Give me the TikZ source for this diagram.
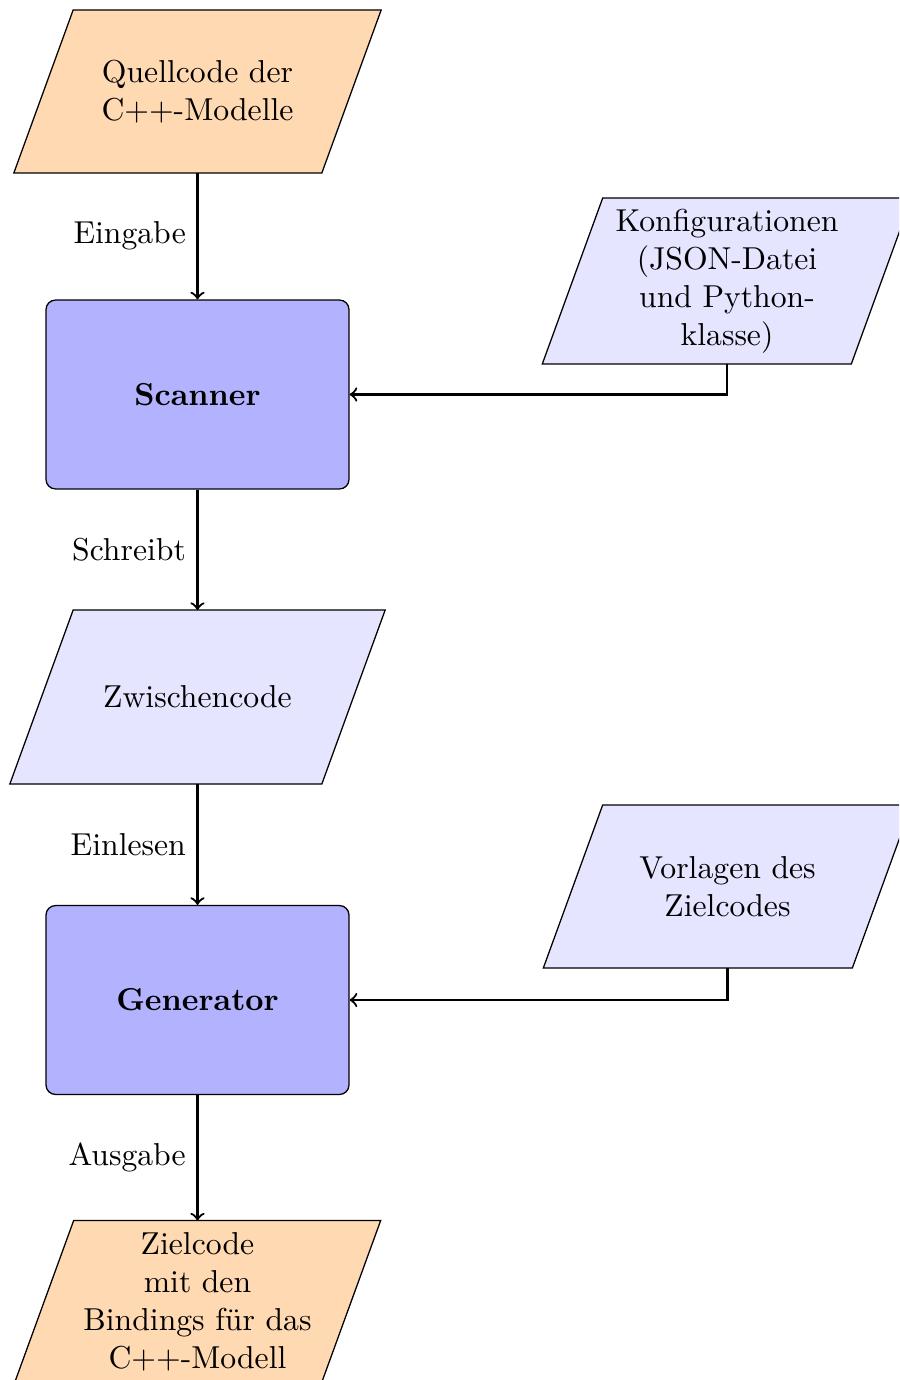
\documentclass[tikz,border=0pt]{standalone}
\begin{document}
\begin{tikzpicture}[x=0.3155pt,y=-0.3155pt,
  paratext/.style={rectangle, align=center, inner sep=0pt, outer sep=0pt, minimum width=80pt},
  parashape/.style={draw, line join=miter},
  procbox/.style={rectangle, rounded corners=3pt, draw, fill=blue!30,
    minimum width=95.6pt, minimum height=59.6pt, font=\bfseries},
  arr/.style={->, line width=0.7pt}]
% #1 name, #2 cx, #3 cy, #4 body width (px), #5 height (px), #6 fill, #7 text
\newcommand\drawpara[7]{%
  \path[parashape, fill=#6]
    ({#2-#4/2-#5*0.182},{#3+#5/2}) -- ({#2+#4/2-#5*0.182},{#3+#5/2}) --
    ({#2+#4/2+#5*0.182},{#3-#5/2}) -- ({#2-#4/2+#5*0.182},{#3-#5/2}) -- cycle;
  \node[paratext, minimum height={#5*0.3155pt}] (#1) at (#2,#3) {#7};}
\useasboundingbox (0,0) rectangle (899,1380);
\clip (0,0) rectangle (899,1380);
\drawpara{Q}{197.5}{91.5}{308}{163}{orange!30}{Quellcode der\\C++-Modelle}
\node[procbox] (S) at (197.5,394.5) {Scanner};
\drawpara{K}{727}{281}{309}{166}{blue!10}{Konfigurationen\\(JSON-Datei\\und Python-\\klasse)}
\drawpara{Z}{197.5}{697}{312}{174}{blue!10}{Zwischencode}
\node[procbox] (G) at (197.5,1000) {Generator};
\drawpara{V}{727.5}{886.5}{309}{163}{blue!10}{Vorlagen des\\Zielcodes}
\drawpara{T}{197.5}{1302}{307}{163}{orange!30}{Zielcode\\mit den\\Bindings f\"ur das\\C++-Modell}
\draw[arr] (Q) -- node[midway,left] {Eingabe} (S);
\draw[arr] (K.south) |- (S.east);
\draw[arr] (S) -- node[midway,left] {Schreibt} (Z);
\draw[arr] (Z) -- node[midway,left] {Einlesen} (G);
\draw[arr] (V.south) |- (G.east);
\draw[arr] (G) -- node[midway,left] {Ausgabe} (T);
\end{tikzpicture}
\end{document}
